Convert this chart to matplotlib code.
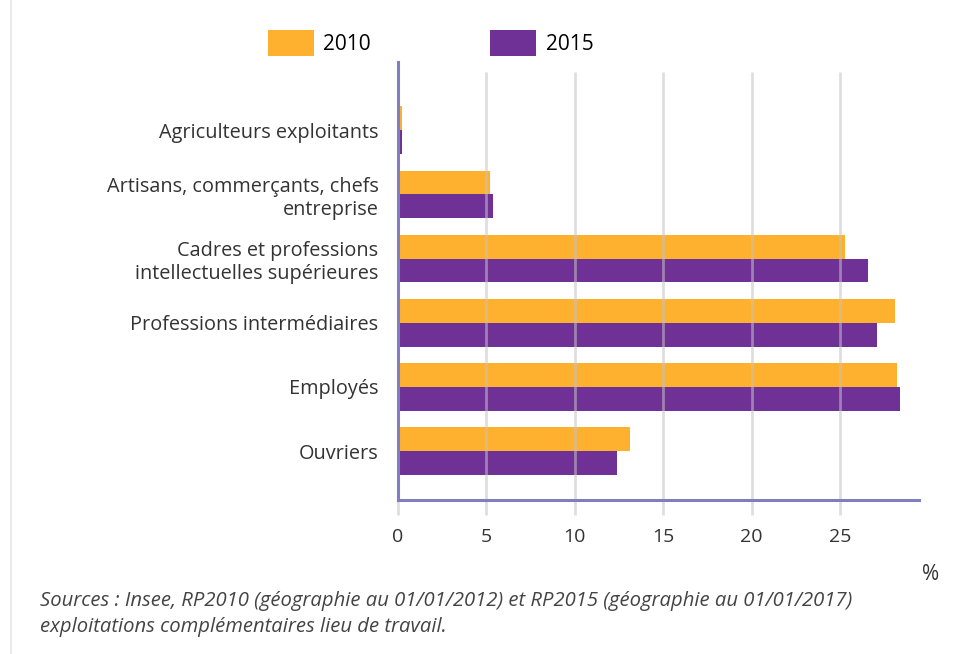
import matplotlib
matplotlib.use("Agg")
import matplotlib.pyplot as plt
from matplotlib.patches import Patch
from matplotlib.lines import Line2D
import numpy as np

plt.rcParams['font.family'] = ['Open Sans', 'DejaVu Sans']

categories = [
    "Agriculteurs exploitants",
    "Artisans, commerçants, chefs\nentreprise",
    "Cadres et professions\nintellectuelles supérieures",
    "Professions intermédiaires",
    "Employés",
    "Ouvriers",
]
values_2010 = [0.2, 5.2, 25.3, 28.1, 28.2, 13.1]
values_2015 = [0.2, 5.4, 26.6, 27.1, 28.4, 12.4]
series_labels = ["2010", "2015"]
x_ticks = [0, 5, 10, 15, 20, 25]

c2010 = "#fdb12f"
c2015 = "#6f3196"
axis_col = "#7f7fc0"
grid_col = "#c4c4c4"
text_col = "#333333"

fig = plt.figure(figsize=(9.61, 6.54), dpi=100)
ax = fig.add_axes([398 / 961, 1 - 500 / 654, (919 - 398) / 961, (500 - 62) / 654])

y = np.arange(len(categories))
h = 0.37
ax.barh(y - h / 2, values_2010, height=h, color=c2010, zorder=2)
ax.barh(y + h / 2, values_2015, height=h, color=c2015, zorder=2)

ax.set_xlim(0, 29.47)
ax.set_ylim(5.76, -1.06)

# vertical gridlines over the bars, running a little below the axis
for t in x_ticks:
    ax.plot([t, t], [-0.9, 5.99], color=grid_col, lw=2.0, alpha=0.55,
            zorder=3, clip_on=False, solid_capstyle='butt')

for s in ["top", "right"]:
    ax.spines[s].set_visible(False)
for s in ["left", "bottom"]:
    ax.spines[s].set_color(axis_col)
    ax.spines[s].set_linewidth(2.2)
    ax.spines[s].set_zorder(4)

ax.set_xticks(x_ticks)
ax.set_xticklabels([str(t) for t in x_ticks], fontsize=14, color=text_col)
ax.set_yticks(y)
ax.set_yticklabels(categories, fontsize=14.3, color=text_col, multialignment="right")
ax.tick_params(axis="x", length=0, pad=20)
ax.tick_params(axis="y", length=0, pad=14)

fig.text(931 / 961, 1 - 575 / 654, "%", fontsize=15, color=text_col,
         ha="center", va="center")

handles = [Patch(facecolor=c2010, edgecolor="none"), Patch(facecolor=c2015, edgecolor="none")]
fig.legend(handles, series_labels, ncol=2, loc="center left",
           bbox_to_anchor=(249 / 961, 1 - 43 / 654), frameon=False,
           fontsize=15, handlelength=2.2, handleheight=1.55,
           columnspacing=5.75, handletextpad=0.45)

fig.text(40 / 961, 1 - 601 / 654,
         "Sources : Insee, RP2010 (géographie au 01/01/2012) et RP2015 (géographie au 01/01/2017)",
         fontsize=14.6, style="italic", color="#444444", va="center")
fig.text(40 / 961, 1 - 627 / 654,
         "exploitations complémentaires lieu de travail.",
         fontsize=14.6, style="italic", color="#444444", va="center")

# thin frame line on the left edge
fig.add_artist(Line2D([11 / 961, 11 / 961], [0, 1], color="#e6e6e6", lw=1.2))

fig.savefig("out.png", dpi=100)
